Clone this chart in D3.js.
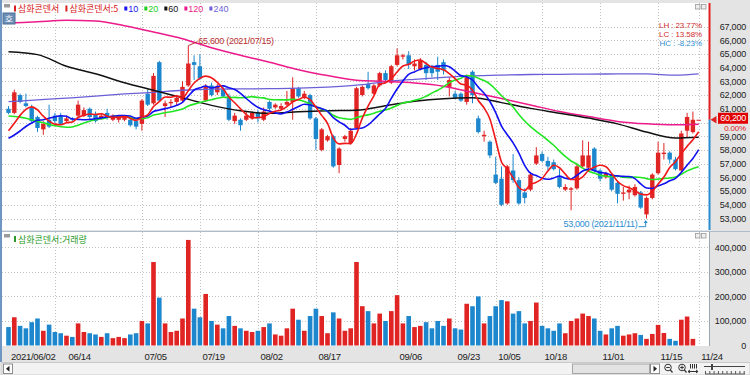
<!DOCTYPE html>
<html>
<head>
<meta charset="utf-8">
<script src="https://cdn.jsdelivr.net/npm/d3@7"></script>
<style>
  body { margin: 0; background: #fff; }
  svg { display: block; }
  text { font-family: "Liberation Sans", Arial, sans-serif; }
  .kr { font-family: "Noto Sans CJK KR", sans-serif; }
</style>
</head>
<body>
<svg id="chart" width="750" height="375"></svg>
<script>
// trading days shown (2021)
const dates = [
  "06/02","06/03","06/04","06/07","06/08","06/09","06/10","06/11","06/14","06/15","06/16","06/17","06/18","06/21","06/22","06/23","06/24","06/25","06/28","06/29","06/30",
  "07/01","07/02","07/05","07/06","07/07","07/08","07/09","07/12","07/13","07/14","07/15","07/16","07/19","07/20","07/21","07/22","07/23","07/26","07/27","07/28","07/29","07/30",
  "08/02","08/03","08/04","08/05","08/06","08/09","08/10","08/11","08/12","08/13","08/17","08/18","08/19","08/20","08/23","08/24","08/25","08/26","08/27","08/30","08/31",
  "09/01","09/02","09/03","09/06","09/07","09/08","09/09","09/10","09/13","09/14","09/15","09/16","09/17","09/23","09/24","09/27","09/28","09/29","09/30",
  "10/01","10/05","10/06","10/07","10/08","10/12","10/13","10/14","10/15","10/18","10/19","10/20","10/21","10/22","10/25","10/26","10/27","10/28","10/29",
  "11/01","11/02","11/03","11/04","11/05","11/08","11/09","11/10","11/11","11/12","11/15","11/16","11/17","11/18","11/19","11/22","11/23","11/24"
];

const open = [
  61000,60700,62000,61400,61100,60400,59500,60200,60500,60500,
  60100,60300,60500,60500,61000,60600,60300,60700,60200,60200,
  60200,60200,60100,59900,62100,61400,64400,61200,61400,61500,
  61600,62700,64400,64100,61600,62700,62200,62400,61900,60100,
  60200,60200,60300,60700,60200,61500,61100,61000,61300,61500,
  62500,61800,62000,60300,58000,58700,59000,56900,58800,58500,
  59600,62000,62800,62100,62700,63600,62900,64200,64800,64900,
  64100,63900,64200,64000,64200,64400,62600,62100,62100,61500,
  63700,60300,59000,58600,56200,55900,54100,56500,55800,54900,
  55100,57000,57700,57200,57100,56000,55100,55100,55200,56800,
  56700,58100,56500,56000,56200,55600,54800,54900,54700,54900,
  53300,54500,56300,57700,57800,57300,56500,59400,59300,60200
];
const high = [
  61200,62400,62100,62100,61300,60500,60100,61300,60700,60700,
  60500,60400,61600,61100,61100,60800,60700,61000,60600,60500,
  60500,60300,60300,61700,62400,63600,64500,61600,61700,62000,
  63000,65600,64900,65000,62800,62900,62800,62600,62100,60700,
  60300,60800,60800,60900,61100,61600,61400,61400,62300,63300,
  62600,62300,62100,60400,59600,59100,59100,58200,59100,59600,
  62600,62700,63700,62800,63700,63800,64200,65400,65000,65200,
  64600,64700,64400,64200,64800,64600,63300,62300,62200,63500,
  63800,60500,59400,58700,57500,56800,56900,57700,56000,55200,
  56400,58200,57900,57500,57300,56600,55500,55300,57000,58700,
  58600,58200,56600,56400,56300,55700,55300,55400,55500,55000,
  54600,56300,58600,58500,57900,57500,59400,60700,60800,60200
];
const low = [
  60600,60600,61400,61100,60000,59300,59100,59600,59900,59800,
  60000,60100,60400,60400,60300,60000,60200,60200,60100,60000,
  60100,59700,59500,59400,61200,61300,61500,60400,61100,61200,
  61500,62600,63100,63100,61500,61900,62000,61800,60100,59900,
  59400,60100,60200,60000,60100,60900,61000,60900,61200,60200,
  61800,61700,60200,58000,57900,58600,56700,56300,58600,58400,
  59500,61900,62400,62000,62600,63000,62800,64100,64600,63900,
  63800,63800,63100,63300,63100,63500,61900,61700,61500,61300,
  61400,59200,58600,57400,55500,53900,54000,55600,54000,54100,
  55000,56900,57100,56500,56500,55200,55000,53600,55100,56700,
  56500,56400,55700,55900,55000,54100,54300,54400,54600,53700,
  53000,54400,56200,57300,57000,56500,56300,58900,59200,60200
];
const close = [
  60700,62200,61500,61200,60100,59600,59900,59700,60100,59900,
  60300,60200,61300,60900,60400,60100,60500,60400,60500,60400,
  60400,59800,59700,61600,61300,63400,61600,61400,61500,61800,
  62600,64300,64200,63200,62600,62000,62600,61900,60200,60500,
  59800,60500,60700,60300,60800,61000,61300,61200,61500,62500,
  61900,62100,60300,58800,59500,59000,56800,58100,59000,59400,
  62500,62600,62500,62700,63600,63100,64100,64900,64900,64200,
  64300,64500,63600,63600,63700,63800,63100,61800,61600,63300,
  62000,59300,59100,57600,55600,54000,56800,55800,54100,54500,
  56200,57600,57200,56800,56600,55300,55300,55200,56800,57600,
  57600,56500,55900,56300,55100,54800,54900,55100,55300,53800,
  54500,56200,57800,57800,57300,56600,59200,60400,60200,60200
];
const volume = [
  75000,115000,80000,70000,95000,110000,60000,85000,55000,50000,
  40000,35000,90000,55000,50000,45000,35000,50000,30000,35000,
  30000,45000,50000,100000,90000,340000,195000,90000,55000,60000,
  110000,430000,150000,115000,210000,100000,85000,70000,120000,80000,
  70000,60000,55000,60000,75000,90000,45000,40000,70000,150000,
  105000,60000,120000,150000,120000,50000,135000,110000,60000,70000,
  340000,160000,140000,90000,130000,100000,140000,205000,90000,120000,
  75000,80000,95000,70000,100000,80000,110000,70000,65000,170000,
  160000,200000,90000,120000,160000,185000,180000,130000,140000,90000,
  100000,175000,80000,70000,60000,90000,50000,100000,110000,130000,
  120000,110000,60000,45000,70000,80000,40000,45000,50000,43000,
  27000,47000,84000,51000,27000,19000,105000,118000,27000,0
];

// closes before 06/02, backed out of where the 5/10/20 lines start
const priorCloses = [62800,62500,62900,62300,62000,61800,62200,61900,61400,61100,
                     59800,58600,57900,57600,57600,59500,58600,59000,59200];

// long averages every 5 trading days
const maDates = ["06/02","06/09","06/16","06/23","06/30","07/07","07/14","07/21","07/28","08/04","08/11","08/19","08/26",
                 "09/02","09/09","09/16","09/28","10/06","10/14","10/21","10/28","11/04","11/11","11/18","11/24"];
const ma60 = [65150,64950,64100,63550,62900,62350,61800,61250,60850,60670,60780,60860,60900,
              61220,61550,61740,61800,61450,61030,60680,60320,59900,59300,58870,58920];
const ma120 = [67250,67350,67450,67400,67050,66600,66100,65450,64900,64400,63850,63420,63080,
               63000,62880,62650,62200,61750,61280,60800,60430,60080,59900,59830,59880];
const ma240 = [61520,61650,61780,61920,62080,62200,62350,62430,62450,62470,62500,62580,62720,
               62980,63150,63290,63400,63460,63500,63510,63530,63540,63540,63450,63540];

const tickDates = ["06/02","06/14","07/05","07/19","08/02","08/17","09/06","09/23","10/05","10/18","11/01","11/15","11/24"];
const tickLabels = ["2021/06/02","06/14","07/05","07/19","08/02","08/17","09/06","09/23","10/05","10/18","11/01","11/15","11/24"];
const priceTicks = [53000,54000,55000,56000,57000,58000,59000,60000,61000,62000,63000,64000,65000,66000,67000];
const volumeTicks = [0,100000,200000,300000,400000];

const UP = '#e02323', DOWN = '#1d87cd';
const fmt = d3.format(',');

const svg = d3.select('#chart');
const plotL = 2, plotR = 709;
const priceTop = 3, priceBottom = 230;
const volTop = 232, volBottom = 346;

const x = d3.scalePoint().domain(dates).range([8.5, 698.7]);
const yPrice = d3.scaleLinear().domain([53000, 67000]).range([218.5, 26.5]);
const yVol = d3.scaleLinear().domain([0, 400000]).range([345.5, 247.3]);
const idx = d3.range(dates.length);
const last = dates.length - 1;

// frame
svg.append('rect').attr('width', 750).attr('height', 375).attr('fill', '#e4e4e4');
svg.append('rect').attr('x', plotL).attr('y', priceTop).attr('width', plotR - plotL).attr('height', priceBottom - priceTop).attr('fill', '#fff');
svg.append('rect').attr('x', plotL).attr('y', volTop).attr('width', plotR - plotL).attr('height', volBottom - volTop).attr('fill', '#fff');
svg.append('line').attr('x1', 0).attr('x2', 750).attr('y1', 231.5).attr('y2', 231.5).attr('stroke', '#aebccb');
svg.append('line').attr('x1', 1).attr('x2', 1).attr('y1', 0).attr('y2', 362).attr('stroke', '#6f95c2').attr('stroke-width', 2);

svg.append('clipPath').attr('id', 'pclip').append('rect')
  .attr('x', plotL).attr('y', priceTop).attr('width', plotR - plotL).attr('height', priceBottom - priceTop);

// grid
const grid = svg.append('g').attr('stroke', '#c2c2c2').attr('stroke-dasharray', '1,2');
grid.selectAll('.gp').data(priceTicks).join('line')
  .attr('x1', plotL).attr('x2', plotR)
  .attr('y1', d => Math.round(yPrice(d)) + 0.5).attr('y2', d => Math.round(yPrice(d)) + 0.5);
grid.selectAll('.gv').data(volumeTicks.slice(1)).join('line')
  .attr('x1', plotL).attr('x2', plotR)
  .attr('y1', d => Math.round(yVol(d)) + 0.5).attr('y2', d => Math.round(yVol(d)) + 0.5);
grid.selectAll('.gx').data(tickDates.slice(1)).join('line')
  .attr('x1', d => Math.round(x(d)) + 0.5).attr('x2', d => Math.round(x(d)) + 0.5)
  .attr('y1', priceTop).attr('y2', priceBottom);
grid.selectAll('.gx2').data(tickDates.slice(1)).join('line')
  .attr('x1', d => Math.round(x(d)) + 0.5).attr('x2', d => Math.round(x(d)) + 0.5)
  .attr('y1', volTop).attr('y2', volBottom);

// candles
const colorOf = i => close[i] >= open[i] ? UP : DOWN;
const candles = svg.append('g');
candles.selectAll('line').data(idx.filter(i => i < last)).join('line')
  .attr('x1', i => x(dates[i])).attr('x2', i => x(dates[i]))
  .attr('y1', i => yPrice(high[i])).attr('y2', i => yPrice(low[i]))
  .attr('stroke', colorOf).attr('stroke-width', 1);
candles.selectAll('rect').data(idx).join('rect')
  .attr('x', i => x(dates[i]) - 2.2).attr('width', 4.4)
  .attr('y', i => yPrice(Math.max(open[i], close[i])))
  .attr('height', i => Math.max(1, yPrice(Math.min(open[i], close[i])) - yPrice(Math.max(open[i], close[i]))))
  .attr('fill', colorOf);

// moving averages
const allCloses = priorCloses.concat(close);
const movingAvg = n => idx.map(i => ({ date: dates[i], value: d3.mean(allCloses.slice(i + priorCloses.length - n + 1, i + priorCloses.length + 1)) }));
const sampled = vals => maDates.map((d, k) => ({ date: d, value: vals[k] }));

const maLines = [
  { data: sampled(ma240), color: '#6b5fd8', width: 1.3 },
  { data: sampled(ma120), color: '#ec1a8a', width: 1.5 },
  { data: sampled(ma60), color: '#111111', width: 1.5 },
  { data: movingAvg(20), color: '#22e622', width: 1.6 },
  { data: movingAvg(10), color: '#1010f0', width: 1.6 },
  { data: movingAvg(5), color: '#f01818', width: 1.6 }
];
const maG = svg.append('g').attr('clip-path', 'url(#pclip)');
maLines.forEach(m => {
  maG.append('path').datum(m.data)
    .attr('fill', 'none').attr('stroke', m.color).attr('stroke-width', m.width)
    .attr('d', d3.line().x(d => x(d.date)).y(d => yPrice(d.value)).curve(d3.curveMonotoneX));
});

// volume bars
svg.append('g').selectAll('rect').data(idx.filter(i => volume[i] > 0)).join('rect')
  .attr('x', i => x(dates[i]) - 2.3).attr('width', 4.6)
  .attr('y', i => yVol(volume[i])).attr('height', i => yVol(0) - yVol(volume[i]))
  .attr('fill', colorOf);

// high / low notes
const hi = d3.maxIndex(high), lo = d3.minIndex(low);
const hx = x(dates[hi]), hy = yPrice(high[hi]);
svg.append('line').attr('x1', hx).attr('y1', hy).attr('x2', hx + 9).attr('y2', hy - 4).attr('stroke', '#b83030');
svg.append('text').attr('x', hx + 10).attr('y', hy - 1.5).attr('fill', '#b83030')
  .attr('font-size', 9).attr('letter-spacing', -0.3)
  .text(fmt(high[hi]) + ' (2021/' + dates[hi] + ')');
const lx = x(dates[lo]), ly = yPrice(low[lo]);
svg.append('path').attr('d', `M${lx - 8},${ly + 8.2}H${lx - 0.8}V${ly + 3.5}`).attr('fill', 'none').attr('stroke', '#2a8ccf');
svg.append('path').attr('d', `M${lx - 0.8},${ly + 1.5}l-2,3h4z`).attr('fill', '#2a8ccf');
svg.append('text').attr('x', lx - 9).attr('y', ly + 8.5).attr('text-anchor', 'end').attr('fill', '#2a8ccf')
  .attr('font-size', 9).attr('letter-spacing', -0.3)
  .text(fmt(low[lo]) + ' (2021/' + dates[lo] + ')');

// LH / LC / HC
const lastClose = close[last];
const pct = v => v.toFixed(2) + '%';
const stats = [
  ['LH : ' + pct((high[hi] - low[lo]) / low[lo] * 100), '#d02a2a'],
  ['LC : ' + pct((lastClose - low[lo]) / low[lo] * 100), '#d02a2a'],
  ['HC : ' + pct((lastClose - high[hi]) / high[hi] * 100), '#2a8ccf']
];
svg.append('g').selectAll('text').data(stats).join('text')
  .attr('x', 702).attr('y', (d, k) => 28 + k * 9).attr('text-anchor', 'end')
  .attr('font-size', 8).attr('letter-spacing', -0.1).attr('fill', d => d[1]).text(d => d[0]);

// right edge of the price panel: red above the last price, blue below
const lastY = yPrice(lastClose);
svg.append('rect').attr('x', 708.5).attr('y', priceTop).attr('width', 2).attr('height', lastY - priceTop).attr('fill', '#e02020');
svg.append('rect').attr('x', 708.5).attr('y', lastY).attr('width', 2).attr('height', priceBottom - lastY).attr('fill', '#2a8ccf');
svg.append('line').attr('x1', 709.5).attr('x2', 709.5).attr('y1', volTop).attr('y2', volBottom).attr('stroke', '#9aa6b2');

// price axis
const pAxis = svg.append('g').attr('transform', 'translate(746,0)')
  .call(d3.axisLeft(yPrice).tickValues(priceTicks.filter(t => Math.abs(yPrice(t) - lastY) > 6))
    .tickSize(0).tickPadding(0).tickFormat(fmt));
pAxis.select('.domain').remove();
pAxis.attr('font-family', null).attr('font-size', null);
pAxis.selectAll('text').attr('font-size', 9).attr('letter-spacing', -0.2).attr('fill', '#222');

// last price tag
svg.append('path').attr('d', `M710.5,${lastY}l6,-3.8v7.6z`).attr('fill', '#e02020');
svg.append('rect').attr('x', 718).attr('y', lastY - 7).attr('width', 30).attr('height', 11).attr('fill', '#e00000');
svg.append('text').attr('x', 746).attr('y', lastY + 1.5).attr('text-anchor', 'end').attr('fill', '#fff')
  .attr('font-size', 9).attr('letter-spacing', -0.3).text(fmt(lastClose));
svg.append('text').attr('x', 746).attr('y', lastY + 10.8).attr('text-anchor', 'end').attr('fill', '#e02020')
  .attr('font-size', 8).attr('letter-spacing', -0.2)
  .text(pct((lastClose - close[last - 1]) / close[last - 1] * 100));

// volume axis
const vAxis = svg.append('g').attr('transform', 'translate(746,0)')
  .call(d3.axisLeft(yVol).tickValues(volumeTicks).tickSize(0).tickPadding(0).tickFormat(fmt));
vAxis.select('.domain').remove();
vAxis.attr('font-family', null).attr('font-size', null);
vAxis.selectAll('text').attr('font-size', 9).attr('letter-spacing', -0.2).attr('fill', '#222');

// date axis
const xAxis = svg.append('g').attr('transform', `translate(0,${volBottom})`)
  .call(d3.axisBottom(x).tickValues(tickDates).tickSize(0).tickPadding(0).tickFormat((d, k) => tickLabels[k]));
xAxis.select('.domain').remove();
xAxis.attr('font-family', null).attr('font-size', null);
let lastRight = -Infinity;
xAxis.selectAll('.tick').each(function (d) {
  const t = d3.select(this).select('text')
    .attr('text-anchor', 'start').attr('dy', null).attr('y', 13.5)
    .attr('font-size', 9.5).attr('letter-spacing', -0.3).attr('fill', '#222');
  const w = t.node().getComputedTextLength();
  const shift = Math.max(2, lastRight + 13 - x(d));
  t.attr('x', shift);
  lastRight = x(d) + shift + w;
});

// legends
const legend = svg.append('g');
legend.append('rect').attr('x', 4).attr('y', 4).attr('width', 6).attr('height', 3.5).attr('fill', '#9a9a9a');
const items = [
  { label: '삼화콘덴서', color: '#d82020', bar: true, kr: true },
  { label: '삼화콘덴서:5', color: '#d82020', bar: true, kr: true },
  { label: '10', color: '#1515ee' },
  { label: '20', color: '#22cc22' },
  { label: '60', color: '#111' },
  { label: '120', color: '#ec1a8a' },
  { label: '240', color: '#6b5fd8' }
];
let lx0 = 14;
items.forEach(it => {
  if (it.bar) legend.append('rect').attr('x', lx0).attr('y', 5.5).attr('width', 2).attr('height', 6).attr('fill', it.color);
  else legend.append('rect').attr('x', lx0).attr('y', 6.5).attr('width', 3).attr('height', 4).attr('fill', it.color);
  const t = legend.append('text').attr('x', lx0 + 4).attr('y', 12).attr('fill', it.color)
    .attr('font-size', 9).attr('class', it.kr ? 'kr' : null).text(it.label);
  lx0 += 4 + t.node().getComputedTextLength() + 6;
});
legend.append('rect').attr('x', 3).attr('y', 13).attr('width', 12).attr('height', 11).attr('fill', '#6d8fb6').attr('stroke', '#4d6f96');
legend.append('text').attr('x', 9).attr('y', 21.5).attr('text-anchor', 'middle').attr('fill', '#fff')
  .attr('font-size', 8.5).attr('class', 'kr').text('호');

legend.append('rect').attr('x', 4).attr('y', 234).attr('width', 6).attr('height', 3.5).attr('fill', '#9a9a9a');
legend.append('rect').attr('x', 14).attr('y', 236).attr('width', 2).attr('height', 6).attr('fill', '#2a9a2a');
legend.append('text').attr('x', 18).attr('y', 242.5).attr('fill', '#2a9a2a').attr('font-size', 9).attr('class', 'kr').text('삼화콘덴서:거래량');

// small window buttons
[4, 233].forEach(yy => {
  [695, 701].forEach(xx => {
    svg.append('rect').attr('x', xx + 0.5).attr('y', yy + 0.5).attr('width', 4.5).attr('height', 4.5)
      .attr('fill', '#eee').attr('stroke', '#999').attr('stroke-width', 0.8);
  });
});

// scroll bar row
const sb = svg.append('g');
sb.append('rect').attr('x', 2).attr('y', 362.5).attr('width', 748).attr('height', 12.5).attr('fill', '#f3f3f3').attr('stroke', '#c9c9c9');
sb.append('rect').attr('x', 3.5).attr('y', 364).attr('width', 9).attr('height', 9.5).attr('fill', '#fff').attr('stroke', '#8d8d8d');
sb.append('path').attr('d', 'M6,368.75l3.5,-3v6z').attr('fill', '#222');
sb.append('rect').attr('x', 572.5).attr('y', 364).attr('width', 77).attr('height', 9.5).attr('fill', '#e3e3e3').attr('stroke', '#a5a5a5');
sb.append('rect').attr('x', 650.5).attr('y', 364).attr('width', 9).attr('height', 9.5).attr('fill', '#fff').attr('stroke', '#8d8d8d');
sb.append('path').attr('d', 'M657,368.75l-3.5,-3v6z').attr('fill', '#222');
[668, 682].forEach((cx, k) => {
  sb.append('circle').attr('cx', cx).attr('cy', 367.5).attr('r', 3.3).attr('fill', 'none').attr('stroke', '#333');
  sb.append('line').attr('x1', cx + 2.3).attr('y1', 369.8).attr('x2', cx + 4.5).attr('y2', 372.5).attr('stroke', '#333').attr('stroke-width', 1.3);
  sb.append('line').attr('x1', cx - 1.8).attr('x2', cx + 1.8).attr('y1', 367.5).attr('y2', 367.5).attr('stroke', '#333');
  if (k === 1) sb.append('line').attr('x1', cx).attr('x2', cx).attr('y1', 365.7).attr('y2', 369.3).attr('stroke', '#333');
});
[690, 692, 694, 696].forEach(xx => sb.append('line').attr('x1', xx + 0.5).attr('x2', xx + 0.5).attr('y1', 364).attr('y2', 368.5).attr('stroke', '#333'));
sb.append('path').attr('d', 'M688,371.5h10M688,371.5l2,-1.5M688,371.5l2,1.5M698,371.5l-2,-1.5M698,371.5l-2,1.5').attr('stroke', '#333').attr('fill', 'none');
sb.append('line').attr('x1', 704).attr('x2', 745).attr('y1', 366.5).attr('y2', 366.5).attr('stroke', '#444');
sb.append('rect').attr('x', 711).attr('y', 364).attr('width', 2).attr('height', 6).attr('fill', '#444');
sb.append('g').selectAll('line').data(d3.range(10)).join('line')
  .attr('x1', k => 705.5 + k * 4.3).attr('x2', k => 705.5 + k * 4.3).attr('y1', 371).attr('y2', 374)
  .attr('stroke', '#555');
sb.append('line').attr('x1', 705).attr('x2', 745).attr('y1', 374).attr('y2', 374).attr('stroke', '#555');
</script>
</body>
</html>
